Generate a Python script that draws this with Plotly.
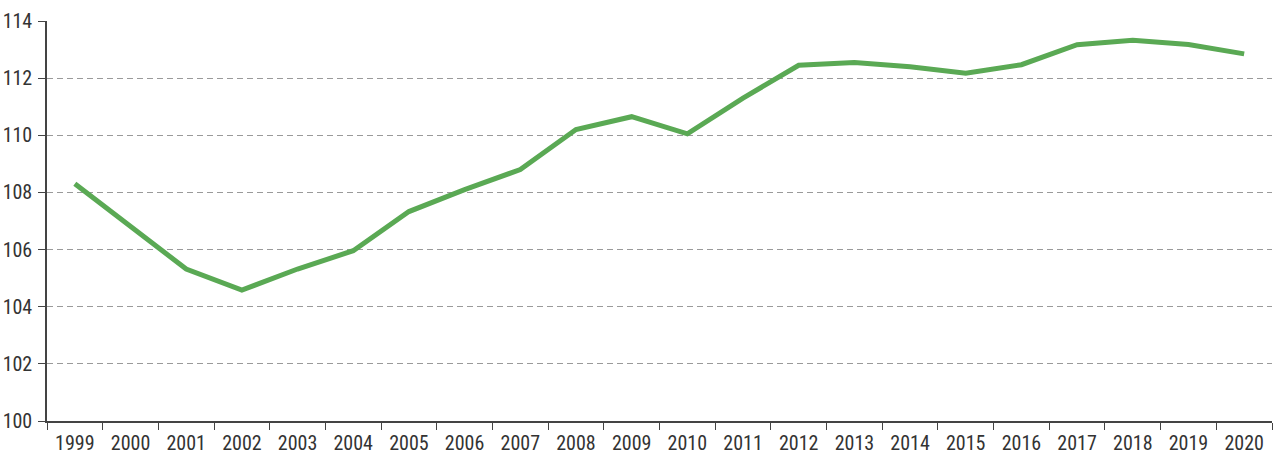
import plotly.graph_objects as go

# Annual index values, 1999-2020
years = [str(y) for y in range(1999, 2021)]
values = [108.3, 106.8, 105.32, 104.58, 105.32, 105.96, 107.33, 108.1, 108.8,
          110.2, 110.65, 110.05, 111.3, 112.45, 112.55, 112.4, 112.17, 112.47,
          113.17, 113.33, 113.18, 112.85]

y_ticks = [100, 102, 104, 106, 108, 110, 112, 114]

FONT = "Roboto Condensed, DejaVu Sans Condensed, sans-serif"

fig = go.Figure(
    go.Scatter(
        x=years,
        y=values,
        mode="lines",
        line=dict(color="#5aa954", width=5),
        hoverinfo="x+y",
    )
)

fig.update_layout(
    width=1279,
    height=455,
    margin=dict(l=47, r=7, t=21, b=34),
    paper_bgcolor="white",
    plot_bgcolor="white",
    showlegend=False,
    font=dict(family=FONT, color="#333333"),
)

fig.update_xaxes(
    type="category",
    range=[-0.5, len(years) - 0.5],
    tickson="boundaries",
    tickangle=0,
    automargin=False,
    ticks="outside",
    ticklen=7,
    tickcolor="#444444",
    tickwidth=1,
    ticklabelstandoff=3,
    showgrid=False,
    showline=True,
    linecolor="#444444",
    linewidth=1.5,
    tickfont=dict(size=20, family=FONT, color="#333333"),
)

fig.update_yaxes(
    range=[100, 114],
    tickvals=y_ticks,
    ticktext=[str(v) for v in y_ticks],
    automargin=False,
    ticks="outside",
    ticklen=7,
    tickcolor="#444444",
    tickwidth=1,
    ticklabelstandoff=2,
    showline=True,
    linecolor="#444444",
    linewidth=1.5,
    showgrid=True,
    gridcolor="#9a9a9a",
    gridwidth=1,
    griddash="6px,4px",
    zeroline=False,
    tickfont=dict(size=20, family=FONT, color="#333333"),
)

fig.write_html("out.html")
